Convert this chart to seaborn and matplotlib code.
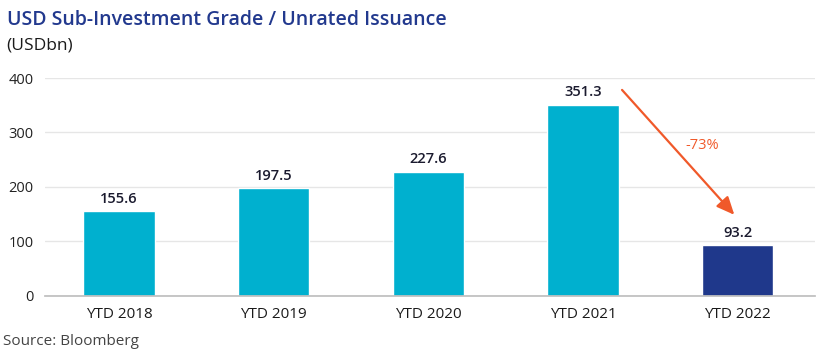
import matplotlib
matplotlib.use("Agg")
import matplotlib.pyplot as plt
import pandas as pd
import seaborn as sns

categories = ["YTD 2018", "YTD 2019", "YTD 2020", "YTD 2021", "YTD 2022"]
issuance = [155.6, 197.5, 227.6, 351.3, 93.2]
bar_colors = ["#00B0CF", "#00B0CF", "#00B0CF", "#00B0CF", "#1F388B"]
y_ticks = [0, 100, 200, 300, 400]
change_label = "-73%"

sns.set_theme(style="white")
plt.rcParams["font.family"] = ["Open Sans", "DejaVu Sans"]

df = pd.DataFrame({"period": categories, "value": issuance})

fig = plt.figure(figsize=(8.3, 3.63), dpi=100)
ax = fig.add_axes([0.054, 0.185, 0.928, 0.6])
sns.barplot(data=df, x="period", y="value", hue="period", palette=bar_colors,
            width=0.46, legend=False, ax=ax, saturation=1)

ax.set_ylim(0, 400)
ax.set_yticks(y_ticks)
ax.yaxis.grid(True, color="#E6E6E6", linewidth=1)
ax.set_axisbelow(True)
for side in ["left", "right", "top"]:
    ax.spines[side].set_visible(False)
ax.spines["bottom"].set_color("#BFBFBF")
ax.tick_params(axis="y", length=0, labelsize=10.5, colors="#222222", pad=8)
ax.tick_params(axis="x", length=0, labelsize=11, colors="#1A1A1A", pad=8)
for lbl in ax.get_xticklabels():
    lbl.set_fontweight("medium")
ax.set_xlabel("")
ax.set_ylabel("")
ax.set_xlim(-0.48, 4.5)

for i, v in enumerate(issuance):
    ax.text(i, v + 10, f"{v:.1f}", ha="center", va="bottom", fontsize=10.5,
            color="#1A1A2E", fontweight="semibold")

ax.annotate("", xy=(3.99, 145), xytext=(3.24, 382),
            arrowprops=dict(arrowstyle="-|>,head_length=0.9,head_width=0.4",
                            color="#F0592A", lw=1.6))
ax.text(3.77, 277, change_label, ha="center", va="center", fontsize=10.5,
        color="#F0592A")

fig.text(0.008, 0.945, "USD Sub-Investment Grade / Unrated Issuance", fontsize=14,
         color="#22398E", fontweight="semibold", va="center")
fig.text(0.008, 0.875, "(USDbn)", fontsize=12.5, color="#1A1A1A", va="center")
fig.text(0.004, 0.06, "Source: Bloomberg", fontsize=11, color="#444444", va="center")

fig.savefig("out.png", dpi=100)
